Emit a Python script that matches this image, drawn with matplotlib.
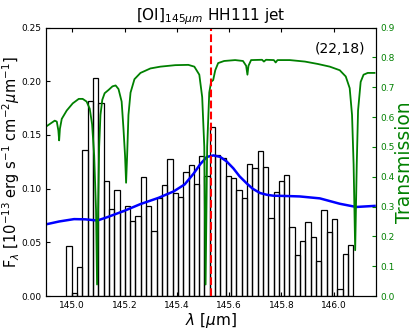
import numpy as np
import matplotlib
matplotlib.use("Agg")
import matplotlib.pyplot as plt

# observed [OI] 145 um spectrum, 54 bins
lam_start = 144.978
bin_width = 0.0203
flux = [0.047, 0.003, 0.027, 0.136, 0.182, 0.203, 0.180, 0.107, 0.081, 0.099,
        0.079, 0.084, 0.070, 0.0745, 0.111, 0.0835, 0.061, 0.091, 0.103, 0.128,
        0.096, 0.0925, 0.116, 0.122, 0.104, 0.130, 0.112, 0.157, 0.131, 0.129,
        0.112, 0.110, 0.099, 0.091, 0.123, 0.119, 0.135, 0.1205, 0.073, 0.097,
        0.107, 0.113, 0.064, 0.038, 0.0515, 0.069, 0.055, 0.033, 0.080, 0.060,
        0.072, 0.0065, 0.0395, 0.048]

# fitted model (blue)
model_lam = [144.903, 144.95, 145.007, 145.05, 145.096, 145.134, 145.20, 145.261,
             145.33, 145.388, 145.43, 145.464, 145.49, 145.515, 145.540, 145.566,
             145.59, 145.616, 145.64, 145.667, 145.69, 145.718, 145.745, 145.769,
             145.82, 145.870, 145.947, 146.023, 146.086, 146.156]
model_flux = [0.067, 0.0695, 0.0717, 0.0715, 0.0704, 0.0735, 0.0795, 0.0857,
              0.0915, 0.0975, 0.104, 0.114, 0.123, 0.1296, 0.131, 0.1296,
              0.1255, 0.119, 0.1115, 0.105, 0.100, 0.096, 0.0943, 0.0935,
              0.0932, 0.0928, 0.091, 0.086, 0.083, 0.084]

# atmospheric transmission (green)
trans_lam = [144.903, 144.918, 144.933, 144.941, 144.947, 144.950, 144.953, 144.960,
             144.979, 145.002, 145.025, 145.040, 145.055, 145.067, 145.076, 145.084,
             145.091, 145.095, 145.099, 145.103, 145.108, 145.115, 145.124, 145.139,
             145.154, 145.166, 145.177, 145.189, 145.196, 145.202, 145.206, 145.210,
             145.215, 145.223, 145.238, 145.261, 145.299, 145.337, 145.394, 145.444,
             145.467, 145.486, 145.497, 145.505, 145.510, 145.516, 145.524, 145.531,
             145.539, 145.547, 145.558, 145.581, 145.623, 145.653, 145.665, 145.670,
             145.674, 145.684, 145.726, 145.733, 145.741, 145.771, 145.778, 145.785,
             145.832, 145.890, 145.939, 145.985, 146.023, 146.046, 146.061, 146.070,
             146.076, 146.082, 146.088, 146.093, 146.103, 146.114, 146.130, 146.156]
trans = [0.570, 0.579, 0.588, 0.585, 0.555, 0.522, 0.561, 0.594,
         0.622, 0.646, 0.661, 0.661, 0.652, 0.628, 0.576, 0.471,
         0.290, 0.039, 0.290, 0.501, 0.607, 0.658, 0.680, 0.691,
         0.703, 0.706, 0.694, 0.652, 0.561, 0.471, 0.380, 0.471,
         0.607, 0.682, 0.727, 0.748, 0.763, 0.769, 0.774, 0.775,
         0.769, 0.742, 0.667, 0.501, 0.039, 0.501, 0.682, 0.718,
         0.724, 0.757, 0.781, 0.788, 0.791, 0.788, 0.772, 0.742,
         0.772, 0.791, 0.792, 0.786, 0.792, 0.791, 0.783, 0.791,
         0.791, 0.786, 0.778, 0.769, 0.757, 0.736, 0.697, 0.607,
         0.441, 0.154, 0.441, 0.622, 0.718, 0.742, 0.748, 0.748]

line_center = 145.53

bin_left = lam_start + bin_width * np.arange(len(flux))

plt.rcParams['xtick.direction'] = 'in'
plt.rcParams['ytick.direction'] = 'in'
plt.rcParams['xtick.top'] = True

fig = plt.figure(figsize=(4.15, 3.32), dpi=100)
ax = fig.add_axes([0.111, 0.108, 0.794, 0.809])

ax.bar(bin_left, flux, width=bin_width, align='edge', facecolor='none',
       edgecolor='black', linewidth=0.9)
ax.plot(model_lam, model_flux, color='blue', linewidth=1.8)

ax.set_xlim(144.90, 146.16)
ax.set_ylim(0, 0.25)
ax.set_yticks([0, 0.05, 0.10, 0.15, 0.20, 0.25])
ax.set_yticklabels(['0.00', '0.05', '0.10', '0.15', '0.20', '0.25'])
ax.set_xticks([145.0, 145.2, 145.4, 145.6, 145.8, 146.0])
ax.tick_params(labelsize=6.5, length=3)
ax.set_xlabel(r'$\lambda$ [$\mu$m]', fontsize=11, labelpad=1)
ax.set_ylabel(r'F$_\lambda$ [10$^{-13}$ erg s$^{-1}$ cm$^{-2}$$\mu$m$^{-1}$]',
              fontsize=10.5)
ax.yaxis.set_label_coords(-0.072, 0.5)
ax.set_title(r'[OI]$_{145\mu m}$ HH111 jet', fontsize=11, pad=5)

ax2 = ax.twinx()
ax2.plot(trans_lam, trans, color='green', linewidth=1.3)
ax2.axvline(line_center, color='red', linestyle='--', linewidth=1.5)
ax2.set_ylim(0, 0.9)
ax2.set_yticks(np.arange(0, 0.91, 0.1))
ax2.tick_params(labelsize=6.5, colors='green', length=3, direction='in')
ax2.set_ylabel('Transmission', color='green', fontsize=13.5)
ax2.yaxis.set_label_coords(1.06, 0.5)
ax2.text(0.97, 0.92, '(22,18)', transform=ax.transAxes, ha='right', va='center',
         fontsize=10)

fig.savefig('out.png', dpi=100)
